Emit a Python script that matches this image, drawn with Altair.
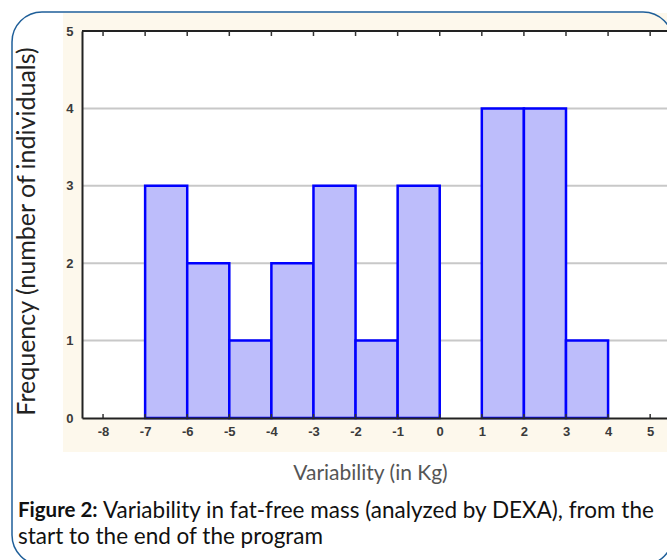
import altair as alt
import pandas as pd

# ---- data ----
bin_start = [-7, -6, -5, -4, -3, -2, -1, 0, 1, 2, 3]
bin_end = [-6, -5, -4, -3, -2, -1, 0, 1, 2, 3, 4]
counts = [3, 2, 1, 2, 3, 1, 3, 0, 4, 4, 1]
x_ticks = list(range(-8, 6))
y_ticks = [0, 1, 2, 3, 4, 5]
grid_vals = [1, 2, 3, 4]

x_title = "Variability (in Kg)"
y_title = "Frequency (number of individuals)"
cap_bold = "Figure 2:"
cap_line1 = "Variability in fat-free mass (analyzed by DEXA), from the"
cap_line2 = "start to the end of the program"

W, H = 585, 387
TITLE_FONT = "Lato"
TICK_FONT = "Liberation Sans"
CAP_SIZE = 22.5

bars_df = pd.DataFrame({"start": bin_start, "end": bin_end, "count": counts})
xt_df = pd.DataFrame({"t": x_ticks})
grid_df = pd.DataFrame({"g": grid_vals})
one = pd.DataFrame({"a": [0]})

xs = alt.Scale(domain=[-8.5, 5.4], nice=False, zero=False)
ys = alt.Scale(domain=[0, 5], nice=False)

cream = alt.Chart(one).mark_rect(color="#fdf8ec").encode(
    x=alt.value(-19), x2=alt.value(W + 30), y=alt.value(-18), y2=alt.value(H + 34)
)
white = alt.Chart(one).mark_rect(color="#ffffff").encode(
    x=alt.value(0), x2=alt.value(W + 30), y=alt.value(0), y2=alt.value(H)
)
grid = alt.Chart(grid_df).mark_rule(color="#c8c8c8", strokeWidth=2).encode(
    y=alt.Y("g:Q", scale=ys), x=alt.value(0), x2=alt.value(W)
)
top_line = alt.Chart(one).mark_rule(color="#222222", strokeWidth=2).encode(
    y=alt.value(0), x=alt.value(0), x2=alt.value(W)
)
top_ticks = alt.Chart(xt_df).mark_rule(color="#333333", strokeWidth=1.5).encode(
    x=alt.X("t:Q", scale=xs), y=alt.value(0), y2=alt.value(5)
)
bot_ticks = alt.Chart(xt_df).mark_rule(color="#333333", strokeWidth=1.5).encode(
    x=alt.X("t:Q", scale=xs), y=alt.value(H - 4), y2=alt.value(H)
)

bars = alt.Chart(bars_df).transform_filter("datum.count > 0").mark_rect(
    fill="#bdbdfb", stroke="#0000ff", strokeWidth=2.5
).encode(
    x=alt.X(
        "start:Q",
        scale=xs,
        axis=alt.Axis(
            values=x_ticks, ticks=False, grid=False, domainColor="#222222", domainWidth=2,
            labelFont=TICK_FONT, labelFontWeight="bold", labelFontSize=13, labelColor="#3a3a3a",
            labelPadding=7, labelExpr="'' + datum.value", labelFlush=False,
            title=x_title, titleFont=TITLE_FONT, titleFontWeight="normal", titleFontSize=21,
            titleColor="#555555", titleX=288, titleY=55, titleAnchor="start", titleAlign="center",
            titleBaseline="middle", zindex=1,
        ),
    ),
    x2="end:Q",
    y=alt.Y(
        "count:Q",
        scale=ys,
        axis=alt.Axis(
            values=y_ticks, ticks=False, grid=False, domainColor="#222222", domainWidth=2,
            labelFont=TICK_FONT, labelFontWeight="bold", labelFontSize=13, labelColor="#3a3a3a",
            labelPadding=9, labelFlush=False, labelExpr="'' + datum.value",
            title=y_title, titleFont=TITLE_FONT, titleFontWeight="normal", titleFontSize=25,
            titleColor="#222222", titleAngle=270, titleX=-56, titleY=200, titleAlign="center",
            titleBaseline="middle", zindex=1,
        ),
    ),
    y2=alt.datum(0),
)

cap_b = alt.Chart(pd.DataFrame({"txt": [cap_bold]})).mark_text(
    font=TITLE_FONT, fontSize=20.5, fontWeight="bold", align="left", baseline="middle", color="#111111"
).encode(text="txt:N", x=alt.value(18 - 82), y=alt.value(511 - 31))
cap_1 = alt.Chart(pd.DataFrame({"txt": [cap_line1]})).mark_text(
    font=TITLE_FONT, fontSize=CAP_SIZE, align="left", baseline="middle", color="#111111"
).encode(text="txt:N", x=alt.value(103 - 82), y=alt.value(511 - 31))
cap_2 = alt.Chart(pd.DataFrame({"txt": [cap_line2]})).mark_text(
    font=TITLE_FONT, fontSize=CAP_SIZE, align="left", baseline="middle", color="#111111"
).encode(text="txt:N", x=alt.value(18 - 82), y=alt.value(537 - 31))

card = alt.Chart(one).mark_rect(
    stroke="#1f5f99", strokeWidth=1.5, fillOpacity=0, cornerRadius=30
).encode(
    x=alt.value(12 - 82), x2=alt.value(673 - 82), y=alt.value(12 - 31), y2=alt.value(565 - 31)
)

chart = alt.layer(
    cream, white, grid, bars, top_line, top_ticks, bot_ticks, cap_b, cap_1, cap_2, card
).properties(
    width=W, height=H,
    autosize=alt.AutoSizeParams(type="none"),
    padding={"left": 82, "top": 31, "right": 0, "bottom": 142},
    background="#ffffff",
).configure_view(stroke=None)

chart.save("out.html", embed_options={"renderer": "svg", "actions": False})
